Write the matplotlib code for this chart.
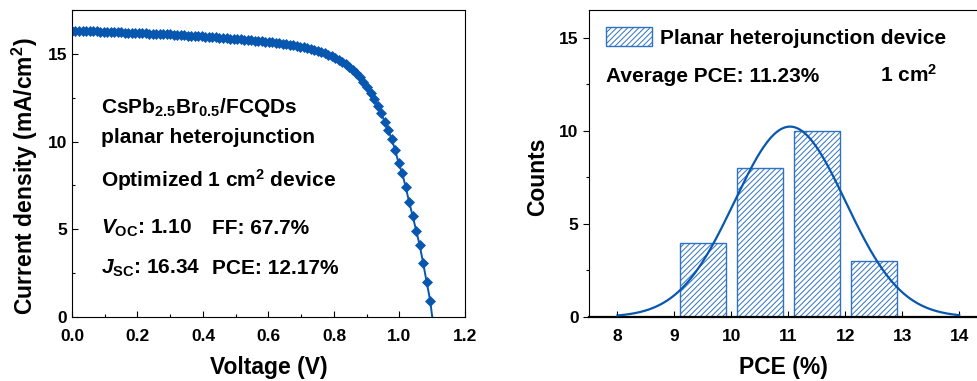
import numpy as np
import matplotlib
matplotlib.use("Agg")
import matplotlib.pyplot as plt
from matplotlib.ticker import MultipleLocator

plt.rcParams['font.family'] = ['Liberation Sans', 'DejaVu Sans']
plt.rcParams['font.weight'] = 'bold'
plt.rcParams['axes.labelweight'] = 'bold'
plt.rcParams['mathtext.fontset'] = 'custom'
plt.rcParams['mathtext.rm'] = 'Liberation Sans:bold'
plt.rcParams['mathtext.it'] = 'Liberation Sans:bold:italic'
plt.rcParams['mathtext.bf'] = 'Liberation Sans:bold'
plt.rcParams['hatch.linewidth'] = 0.7

BLUE = '#0757b0'
BAR_BLUE = '#2f72c2'
TXT = 15

# J-V sweep, 0 -> 1.094 V
v_start, v_end = 0.0, 1.094
j_sc_curve = [
    16.31, 16.30, 16.30, 16.29, 16.28, 16.28, 16.27, 16.27, 16.26, 16.25,
    16.25, 16.24, 16.23, 16.23, 16.22, 16.21, 16.20, 16.20, 16.19, 16.18,
    16.17, 16.16, 16.15, 16.14, 16.13, 16.12, 16.11, 16.10, 16.10, 16.09,
    16.07, 16.06, 16.05, 16.04, 16.03, 16.01, 16.00, 15.99, 15.98, 15.96,
    15.95, 15.93, 15.92, 15.90, 15.89, 15.87, 15.86, 15.84, 15.83, 15.81,
    15.79, 15.77, 15.75, 15.73, 15.71, 15.69, 15.67, 15.65, 15.63, 15.60,
    15.57, 15.54, 15.51, 15.48, 15.45, 15.41, 15.37, 15.33, 15.28, 15.23,
    15.17, 15.10, 15.03, 14.95, 14.86, 14.76, 14.65, 14.53, 14.40, 14.25,
    14.08, 13.88, 13.65, 13.38, 13.08, 12.76, 12.42, 12.00, 11.62, 11.14,
    10.67, 10.14, 9.53, 8.77, 8.20, 7.43, 6.54, 5.76, 4.92, 4.10,
    3.06, 1.97, 0.93,
]
voltage = np.linspace(v_start, v_end, len(j_sc_curve))
v_oc = 1.10

# PCE histogram
bin_centers = [9.5, 10.5, 11.5, 12.5]
counts = [4, 8, 10, 3]
fit_mean, fit_sigma = 11.03, 0.975

fig = plt.figure(figsize=(9.78, 3.81), dpi=100)

# ---------- J-V curve ----------
ax1 = fig.add_axes([0.0736, 0.168, 0.4018, 0.806])
ax1.plot(list(voltage) + [v_oc], j_sc_curve + [0.0], '-', color=BLUE, lw=1.4,
         marker='D', ms=4.6, mew=0.5, mec=BLUE, mfc=BLUE,
         markevery=list(range(len(j_sc_curve))))
ax1.set_xlim(0, 1.2)
ax1.set_ylim(0, 17.5)
ax1.xaxis.set_major_locator(MultipleLocator(0.2))
ax1.xaxis.set_minor_locator(MultipleLocator(0.1))
ax1.yaxis.set_major_locator(MultipleLocator(5))
ax1.yaxis.set_minor_locator(MultipleLocator(2.5))
ax1.xaxis.set_major_formatter(lambda x, p: f"{x:.1f}")
ax1.tick_params(which='both', direction='in', labelsize=12.5, width=0.8)
ax1.tick_params(which='major', length=4)
ax1.tick_params(which='minor', length=2.5)
ax1.tick_params(axis='x', pad=9)
ax1.set_xlabel('Voltage (V)', fontsize=16.5, labelpad=8)
ax1.set_ylabel('Current density (mA/cm$^2$)', fontsize=16.5)
ax1.yaxis.set_label_coords(-0.081, 0.458)

ax1.text(0.088, 11.64, r'CsPb$_{2.5}$Br$_{0.5}$/FCQDs', fontsize=TXT)
ax1.text(0.088, 9.94, 'planar heterojunction', fontsize=TXT)
ax1.text(0.088, 7.43, r'Optimized 1 cm$^2$ device', fontsize=TXT)
ax1.text(0.088, 4.72, r'$V_{\mathrm{OC}}$: 1.10', fontsize=TXT)
ax1.text(0.428, 4.72, 'FF: 67.7%', fontsize=TXT)
ax1.text(0.088, 2.45, r'$J_{\mathrm{SC}}$: 16.34', fontsize=TXT)
ax1.text(0.428, 2.45, 'PCE: 12.17%', fontsize=TXT)

# ---------- PCE distribution ----------
ax2 = fig.add_axes([0.6022, 0.168, 0.3978, 0.806])
ax2.bar(bin_centers, counts, width=0.8, color='white', edgecolor=BAR_BLUE,
        hatch='//////', linewidth=1.0, label='Planar heterojunction device',
        zorder=2)
xs = np.linspace(8, 14, 300)
fit = sum(counts) * np.exp(-(xs - fit_mean) ** 2 / (2 * fit_sigma ** 2)) / (fit_sigma * np.sqrt(2 * np.pi))
ax2.plot(xs, fit, color=BLUE, lw=1.6, zorder=3)
ax2.set_xlim(7.5, 14.33)
ax2.set_ylim(0, 16.5)
ax2.xaxis.set_major_locator(MultipleLocator(1))
ax2.yaxis.set_major_locator(MultipleLocator(5))
ax2.yaxis.set_minor_locator(MultipleLocator(2.5))
ax2.tick_params(axis='x', which='both', direction='in', labelsize=12.5, width=0.8, length=4, pad=9)
ax2.tick_params(axis='y', which='both', direction='out', labelsize=12.5, width=0.8)
ax2.tick_params(axis='y', which='minor', length=2.5)
ax2.tick_params(axis='y', which='major', length=4)
ax2.spines['bottom'].set_linewidth(1.6)
ax2.set_xlabel('PCE (%)', fontsize=16.5, labelpad=8)
ax2.set_ylabel('Counts', fontsize=16.5)
ax2.yaxis.set_label_coords(-0.103, 0.458)
ax2.legend(loc='upper left', frameon=False, fontsize=TXT, handlelength=2.2,
           handleheight=1.0, handletextpad=0.4, borderaxespad=0.0,
           bbox_to_anchor=(0.022, 0.97))
ax2.text(7.806, 12.65, 'Average PCE: 11.23%', fontsize=TXT)
ax2.text(12.61, 12.65, r'1 cm$^2$', fontsize=TXT)

fig.savefig('out.png', dpi=100)
